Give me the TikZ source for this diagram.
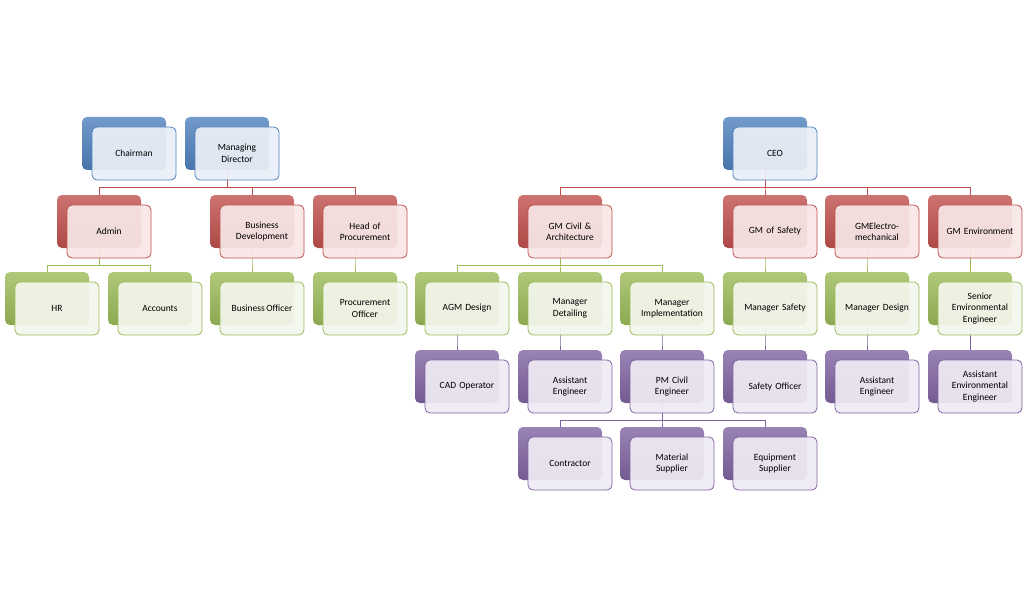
\documentclass[tikz,border=0pt]{standalone}
\usepackage{fontspec}
\setmainfont{Carlito}
\usetikzlibrary{positioning,calc,backgrounds}

\definecolor{blueB}{HTML}{4F81BD}
\definecolor{blueF}{HTML}{E9EFF7}
\definecolor{redB}{HTML}{C0504D}
\definecolor{redF}{HTML}{F7E6E6}
\definecolor{greenB}{HTML}{9BBB59}
\definecolor{greenF}{HTML}{F3F6EC}
\definecolor{purpB}{HTML}{8064A2}
\definecolor{purpF}{HTML}{EFEBF4}

\tikzset{
    back/.style={rectangle, rounded corners=5pt, minimum width=84pt, minimum height=53pt, top color=#1!80, bottom color=#1!90!black, draw=none},
    front/.style={rectangle, rounded corners=5pt, minimum width=84pt, minimum height=53pt, fill=white, draw=#1, line width=0.8pt, text width=74pt, align=center, font=\fontsize{9.5}{11.5}\selectfont},
    link/.style={draw=#1, line width=0.8pt}
}

% back box centred at (x,y), front box shifted 10,10
\newcommand{\orgunit}[5]{%
    \node[back=#4B] (#1-b) at (#2,#3) {};
    \node[front=#4B, fill=#4F, fill opacity=0.93, text opacity=1] (#1) at (#2+10,#3+10) {#5};
}
\newcommand{\orglink}[3]{%
    \draw[link=#3B] (#1-b.south) -- ++(0,17) -| (#2-b.north);
}

\begin{document}
\begin{tikzpicture}[x=1pt, y=-1pt]
\useasboundingbox (0,0) rectangle (1023,607);

% Top level
\orgunit{chair}{124}{143.5}{blue}{Chairman}
\orgunit{md}{227}{143.5}{blue}{Managing\\Director}
\orgunit{ceo}{765}{143.5}{blue}{CEO}

% Second level
\orgunit{admin}{99}{221.5}{red}{Admin}
\orgunit{busdev}{252}{221.5}{red}{Business\\Development}
\orgunit{hop}{355}{221.5}{red}{Head of\\Procurement}
\orgunit{gmcivil}{560}{221.5}{red}{GM Civil \&\\Architecture}
\orgunit{gmsafety}{765}{221.5}{red}{GM of Safety}
\orgunit{gmelec}{867}{221.5}{red}{GMElectro-\\mechanical}
\orgunit{gmenv}{970}{221.5}{red}{GM Environment}

% Third level
\orgunit{hr}{47}{298.5}{green}{HR}
\orgunit{acc}{150}{298.5}{green}{Accounts}
\orgunit{bo}{252}{298.5}{green}{Business\,Officer}
\orgunit{po}{355}{298.5}{green}{Procurement\\Officer}
\orgunit{agm}{457}{298.5}{green}{AGM Design}
\orgunit{mdet}{560}{298.5}{green}{Manager\\Detailing}
\orgunit{mimpl}{662}{298.5}{green}{Manager\\Implementation}
\orgunit{msafety}{765}{298.5}{green}{Manager Safety}
\orgunit{mdesign}{867}{298.5}{green}{Manager Design}
\orgunit{senv}{970}{298.5}{green}{Senior\\Environmental\\Engineer}

% Fourth level
\orgunit{cad}{457}{376.5}{purp}{CAD Operator}
\orgunit{ae1}{560}{376.5}{purp}{Assistant\\Engineer}
\orgunit{pm}{662}{376.5}{purp}{PM Civil\\Engineer}
\orgunit{so}{765}{376.5}{purp}{Safety Officer}
\orgunit{ae2}{867}{376.5}{purp}{Assistant\\Engineer}
\orgunit{aenv}{970}{376.5}{purp}{Assistant\\Environmental\\Engineer}

% Fifth level
\orgunit{contr}{560}{453.5}{purp}{Contractor}
\orgunit{mat}{662}{453.5}{purp}{Material\\Supplier}
\orgunit{equip}{765}{453.5}{purp}{Equipment\\Supplier}

% Connectors
\begin{scope}[on background layer]
\orglink{md}{admin}{red}
\orglink{md}{busdev}{red}
\orglink{md}{hop}{red}
\orglink{ceo}{gmcivil}{red}
\orglink{ceo}{gmsafety}{red}
\orglink{ceo}{gmelec}{red}
\orglink{ceo}{gmenv}{red}
\orglink{admin}{hr}{green}
\orglink{admin}{acc}{green}
\orglink{busdev}{bo}{green}
\orglink{hop}{po}{green}
\orglink{gmcivil}{agm}{green}
\orglink{gmcivil}{mdet}{green}
\orglink{gmcivil}{mimpl}{green}
\orglink{gmsafety}{msafety}{green}
\orglink{gmelec}{mdesign}{green}
\orglink{gmenv}{senv}{green}
\orglink{agm}{cad}{purp}
\orglink{mdet}{ae1}{purp}
\orglink{mimpl}{pm}{purp}
\orglink{msafety}{so}{purp}
\orglink{mdesign}{ae2}{purp}
\orglink{senv}{aenv}{purp}
\orglink{pm}{contr}{purp}
\orglink{pm}{mat}{purp}
\orglink{pm}{equip}{purp}
\end{scope}

\end{tikzpicture}
\end{document}
